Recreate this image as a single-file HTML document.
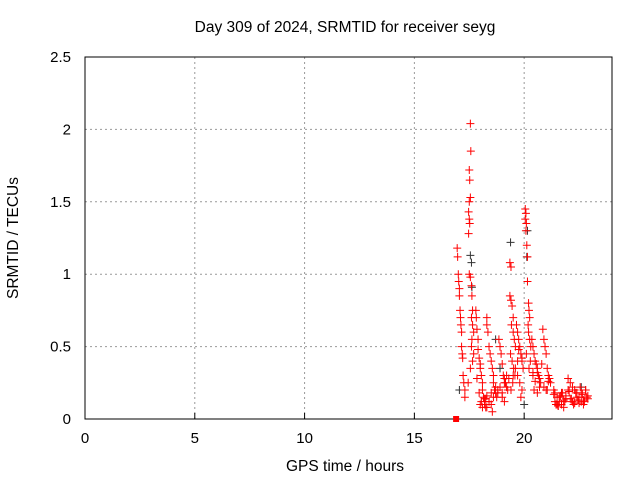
<!DOCTYPE html>
<html><head><meta charset="utf-8"><style>
body{margin:0;background:#fff;}
svg{display:block;font-family:"Liberation Sans",sans-serif;}
</style></head><body>
<svg id="chart" width="640" height="480">
<rect width="640" height="480" fill="#fff"/>
<text x="345" y="32" font-size="15.5" text-anchor="middle">Day 309 of 2024, SRMTID for receiver seyg</text>
<text x="345" y="471" font-size="15.5" text-anchor="middle">GPS time / hours</text>
<text transform="translate(18,238) rotate(-90)" font-size="15.5" text-anchor="middle">SRMTID / TECUs</text>
<g id="grid"></g><g id="axes"></g><g id="marks"></g>
</svg>
<script>
const xTicks=[0,5,10,15,20];
const yTicks=[0,0.5,1,1.5,2,2.5];
const yTickLabels=["0","0.5","1","1.5","2","2.5"];
const redT=[16.95,16.97,17.0,17.02,17.05,17.05,17.08,17.1,17.12,17.15,17.15,17.18,17.2,17.22,17.25,17.3,17.3,
17.55,17.57,17.5,17.52,17.55,17.5,17.47,17.5,17.52,17.47,17.5,17.55,17.6,17.62,17.65,17.6,17.65,17.7,17.62,17.6,17.7,17.65,17.55,17.45,
17.8,17.82,17.85,17.9,17.9,17.95,18.0,18.0,18.05,18.1,18.1,18.15,18.2,18.2,18.25,17.85,17.95,18.05,
18.3,18.3,18.35,18.4,18.45,18.5,18.55,18.6,18.6,18.65,18.7,18.75,18.4,18.5,18.3,18.55,18.7,18.25,
18.85,18.9,18.95,19.0,19.05,19.1,19.15,19.2,19.25,19.0,19.1,19.2,18.8,
19.35,19.4,19.35,19.4,19.45,19.5,19.42,19.5,19.55,19.6,19.38,19.45,19.52,19.58,19.48,19.4,
19.65,19.7,19.75,19.8,19.85,19.9,19.95,19.7,19.8,19.9,19.75,19.85,
20.05,20.08,20.05,20.1,20.08,20.12,20.15,20.15,20.2,20.22,20.25,20.18,20.2,20.25,20.3,20.1,20.28,20.22,
20.35,20.4,20.45,20.5,20.55,20.6,20.65,20.7,20.75,20.45,20.6,20.7,20.4,
20.85,20.9,20.95,21.0,21.05,21.1,21.15,21.2,20.9,21.05,21.1,
21.35,21.4,21.5,21.6,21.7,21.8,21.9,21.45,21.65,21.85,21.55,21.75,
22.0,22.1,22.2,22.3,22.4,22.5,22.6,22.7,22.8,22.9,22.15,22.35,22.55,22.75,22.25,22.45,22.65,22.85,22.05,22.5,
18.0,18.1,18.2,18.3,18.4,18.5,18.6,18.8,18.9,19.0,19.1,19.3,19.5,19.6,19.7,19.9,20.4,20.5,20.6,20.8,21.0,
21.4,21.5,21.6,21.7,21.8,21.9,22.0,22.2,22.4,22.6,22.8,22.9,21.35,21.55,22.1,22.3,22.7];
const redV=[1.18,1.12,1.0,0.95,0.9,0.85,0.75,0.7,0.65,0.6,0.5,0.45,0.42,0.3,0.25,0.2,0.15,
2.04,1.85,1.72,1.65,1.53,1.5,1.43,1.38,1.35,1.28,1.0,0.98,0.92,0.85,0.75,0.7,0.65,0.6,0.55,0.5,0.45,0.4,0.35,0.25,
0.75,0.7,0.62,0.55,0.48,0.42,0.38,0.35,0.3,0.25,0.2,0.15,0.12,0.1,0.08,0.28,0.18,0.12,
0.7,0.65,0.6,0.5,0.45,0.4,0.35,0.3,0.25,0.2,0.18,0.15,0.12,0.1,0.08,0.05,0.22,0.14,
0.55,0.5,0.45,0.38,0.3,0.28,0.25,0.22,0.2,0.15,0.12,0.3,0.18,
1.08,1.05,0.85,0.82,0.78,0.7,0.65,0.6,0.55,0.5,0.45,0.4,0.35,0.3,0.25,0.2,
0.65,0.6,0.55,0.5,0.45,0.4,0.35,0.3,0.25,0.2,0.48,0.15,
1.45,1.42,1.38,1.35,1.3,1.2,1.12,0.95,0.8,0.75,0.7,0.65,0.6,0.55,0.5,0.45,0.4,0.35,
0.55,0.5,0.45,0.4,0.38,0.35,0.3,0.28,0.25,0.2,0.18,0.22,0.32,
0.62,0.55,0.5,0.45,0.35,0.3,0.28,0.25,0.22,0.2,0.26,
0.2,0.18,0.15,0.12,0.1,0.08,0.14,0.1,0.16,0.12,0.09,0.18,
0.28,0.25,0.22,0.2,0.18,0.15,0.12,0.1,0.2,0.16,0.14,0.18,0.22,0.12,0.1,0.13,0.17,0.15,0.19,0.11,
0.1,0.08,0.14,0.16,0.12,0.18,0.15,0.2,0.22,0.18,0.25,0.28,0.3,0.35,0.4,0.42,0.3,0.26,0.32,0.38,0.2,
0.12,0.1,0.15,0.18,0.13,0.16,0.2,0.12,0.15,0.18,0.2,0.14,0.17,0.09,0.14,0.11,0.13,0.16];
const blackT=[17.55,17.6,17.62,19.38,20.15,20.12,18.7,18.9,17.05,20.0,22.6];
const blackV=[1.13,1.08,0.91,1.22,1.3,1.12,0.55,0.35,0.2,0.1,0.22];
const squareT=[16.9];
const squareV=[0];
const X0=85,X1=612,Y0=419,Y1=57,XMAX=24,YMAX=2.5;
const xs=t=>X0+t/XMAX*(X1-X0);
const ys=v=>Y0-v/YMAX*(Y0-Y1);
const NS="http://www.w3.org/2000/svg";
function mk(tag,parent,attrs){const e=document.createElementNS(NS,tag);for(const k in attrs)e.setAttribute(k,attrs[k]);parent.appendChild(e);return e;}
const grid=document.getElementById('grid'),axes=document.getElementById('axes'),marks=document.getElementById('marks');
xTicks.forEach(t=>{
 if(t>0){const g=mk('line',grid,{x1:xs(t),x2:xs(t),y1:Y1,y2:Y0,stroke:'#999','stroke-dasharray':'2,3'});
 
 }
 const tk=mk('line',axes,{x1:xs(t),x2:xs(t),y1:Y0,y2:Y0-6,stroke:'#000'});
 
 
 const l=mk('text',axes,{x:xs(t),y:Y0+24,'font-size':15,'text-anchor':'middle'});l.textContent=t;
 
 
});
yTicks.forEach((v,i)=>{
 if(v>0&&v<YMAX){const g=mk('line',grid,{x1:X0,x2:X1,y1:ys(v),y2:ys(v),stroke:'#999','stroke-dasharray':'2,3'});
 
 }
 const l=mk('text',axes,{x:X0-14,y:ys(v)+5,'font-size':15,'text-anchor':'end'});l.textContent=yTickLabels[i];
 
 
});
const fr=mk('rect',axes,{x:X0,y:Y1,width:X1-X0,height:Y0-Y1,fill:'none',stroke:'#000'});


function plus(t,v,c,name){const x=xs(t),y=ys(v);
 const p=mk('path',marks,{d:`M${x-4},${y}H${x+4}M${x},${y-4}V${y+4}`,stroke:c,'stroke-width':1});
 
 }
blackT.forEach((t,i)=>plus(t,blackV[i],'#333','black-point'));
redT.forEach((t,i)=>plus(t,redV[i],'#f00','red-point'));
squareT.forEach((t,i)=>{const s=mk('rect',marks,{x:xs(t)-3,y:ys(squareV[i])-3,width:6,height:6,fill:'#f00'});
 
 });
</script>
</body></html>
